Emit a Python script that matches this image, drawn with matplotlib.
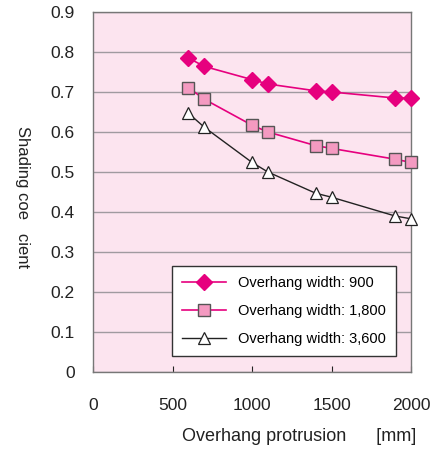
import matplotlib
matplotlib.use("Agg")
import matplotlib.pyplot as plt

plt.rcParams['font.family'] = ['Liberation Sans', 'DejaVu Sans']

protrusion = [600, 700, 1000, 1100, 1400, 1500, 1900, 2000]
width_900 = [0.785, 0.764, 0.731, 0.720, 0.703, 0.700, 0.685, 0.685]
width_1800 = [0.711, 0.682, 0.617, 0.600, 0.566, 0.559, 0.532, 0.524]
width_3600 = [0.647, 0.612, 0.524, 0.500, 0.447, 0.437, 0.390, 0.383]
labels = ["Overhang width: 900", "Overhang width: 1,800", "Overhang width: 3,600"]

yticks = [0, 0.1, 0.2, 0.3, 0.4, 0.5, 0.6, 0.7, 0.8, 0.9]
ytick_labels = ["0", "0.1", "0.2", "0.3", "0.4", "0.5", "0.6", "0.7", "0.8", "0.9"]
xticks = [0, 500, 1000, 1500, 2000]

fig = plt.figure(figsize=(4.44, 4.54), dpi=100)
ax = fig.add_axes([93 / 444, 1 - 372 / 454, 318 / 444, 360 / 454])
ax.set_facecolor('#fce4ef')

ax.plot(protrusion, width_900, color='#e6007e', lw=1.2, marker='D', ms=8,
        mfc='#e6007e', mec='#e6007e', label=labels[0], clip_on=False, zorder=3)
ax.plot(protrusion, width_1800, color='#e6007e', lw=1.2, marker='s', ms=9,
        mfc='#f49ac1', mec='#555555', mew=1.0, label=labels[1], clip_on=False, zorder=3)
ax.plot(protrusion, width_3600, color='#222222', lw=1.0, marker='^', ms=9,
        mfc='white', mec='#222222', mew=0.9, label=labels[2], clip_on=False, zorder=3)

ax.set_xlim(0, 2000)
ax.set_ylim(0, 0.9)
ax.set_yticks(yticks)
ax.set_yticklabels(ytick_labels)
ax.set_xticks(xticks)
ax.yaxis.grid(True, color='#a09aa0', lw=1.0)
ax.set_axisbelow(True)
ax.tick_params(axis='y', length=0, pad=13, labelsize=12.5, colors='#222222')
ax.tick_params(axis='x', direction='in', length=4, pad=19, labelsize=12.5,
               colors='#222222')
for s in ax.spines.values():
    s.set_color('#777777')
    s.set_linewidth(1.0)

ax.set_xlabel("Overhang protrusion      [mm]", fontsize=13, color='#222222')
ax.xaxis.set_label_coords(0.648, -0.155)
ax.set_ylabel("Shading coe   cient", fontsize=12, color='#222222', rotation=270,
              va='center')
ax.yaxis.set_label_coords(-0.223, 0.485)

leg = ax.legend(loc='lower right', bbox_to_anchor=(0.952, 0.044), fontsize=10.5,
                fancybox=False, framealpha=1, edgecolor='#333333',
                handlelength=3.0, borderpad=0.7, labelspacing=0.95,
                borderaxespad=0)
leg.get_frame().set_linewidth(1.0)

fig.savefig("out.png", dpi=100)
